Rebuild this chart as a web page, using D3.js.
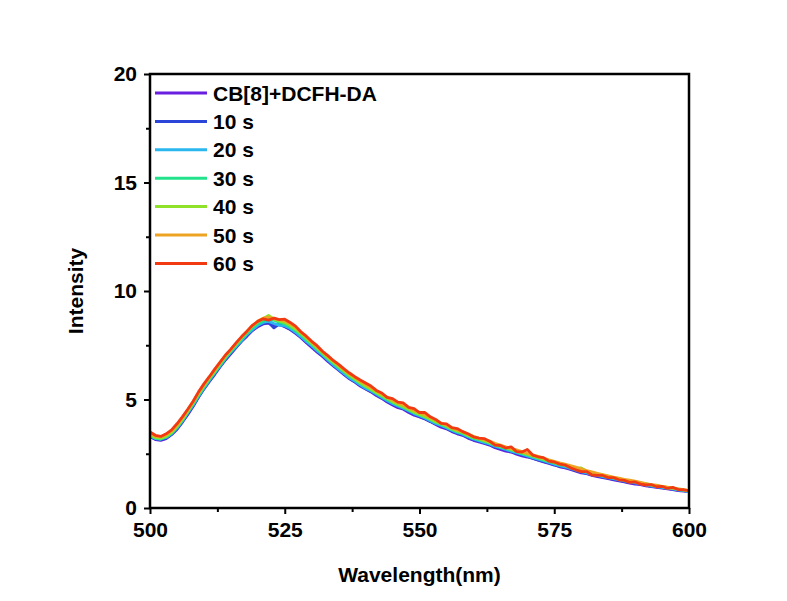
<!DOCTYPE html>
<html>
<head>
<meta charset="utf-8">
<script src="https://cdn.jsdelivr.net/npm/d3@7"></script>
<style>
  body { margin: 0; background: #fff; }
  text { font-family: Arial, "Liberation Sans", sans-serif; font-weight: bold; }
</style>
</head>
<body>
<div id="viz"></div>
<script>
// wavelength grid 500..600 nm, 1 nm step
var wavelengths = d3.range(500, 601, 1);

var seriesNames = ['CB[8]+DCFH-DA', '10 s', '20 s', '30 s', '40 s', '50 s', '60 s'];
var seriesColors = ['#6a1fe0', '#2b45d8', '#2ab6ee', '#22e38c', '#8fe12a', '#eea423', '#f23a12'];

var cbDcfh = [3.30, 3.15, 3.12, 3.20, 3.38, 3.62, 3.95, 4.30, 4.68, 5.10, 5.48,
  5.82, 6.15, 6.50, 6.82, 7.10, 7.40, 7.68, 7.92, 8.18, 8.35,
  8.48, 8.52, 8.40, 8.45, 8.35, 8.22, 8.05, 7.85, 7.62, 7.40,
  7.18, 6.98, 6.75, 6.55, 6.35, 6.15, 5.95, 5.80, 5.62, 5.48,
  5.35, 5.18, 5.05, 4.88, 4.75, 4.62, 4.55, 4.40, 4.28, 4.20,
  4.10, 3.98, 3.85, 3.72, 3.65, 3.52, 3.42, 3.35, 3.22, 3.12,
  3.05, 2.98, 2.90, 2.78, 2.70, 2.62, 2.58, 2.48, 2.40, 2.35,
  2.28, 2.20, 2.12, 2.05, 1.98, 1.90, 1.85, 1.78, 1.70, 1.62,
  1.58, 1.50, 1.45, 1.40, 1.35, 1.30, 1.25, 1.20, 1.15, 1.10,
  1.08, 1.02, 0.98, 0.95, 0.92, 0.88, 0.85, 0.80, 0.78, 0.75];

var s10 = [3.28, 3.18, 3.15, 3.22, 3.40, 3.65, 3.98, 4.35, 4.72, 5.12, 5.50,
  5.85, 6.20, 6.52, 6.85, 7.15, 7.42, 7.70, 7.98, 8.20, 8.40,
  8.50, 8.55, 8.30, 8.48, 8.38, 8.25, 8.08, 7.88, 7.65, 7.45,
  7.22, 7.02, 6.80, 6.58, 6.38, 6.18, 5.98, 5.82, 5.65, 5.50,
  5.38, 5.22, 5.08, 4.92, 4.78, 4.68, 4.58, 4.45, 4.32, 4.22,
  4.12, 4.00, 3.88, 3.78, 3.68, 3.55, 3.45, 3.38, 3.25, 3.15,
  3.08, 3.00, 2.92, 2.82, 2.75, 2.68, 2.60, 2.52, 2.45, 2.38,
  2.30, 2.22, 2.15, 2.08, 2.00, 1.92, 1.88, 1.80, 1.72, 1.65,
  1.60, 1.52, 1.48, 1.42, 1.38, 1.32, 1.28, 1.22, 1.18, 1.15,
  1.10, 1.05, 1.00, 0.98, 0.94, 0.90, 0.86, 0.82, 0.80, 0.76];

var s20 = [3.32, 3.20, 3.18, 3.25, 3.42, 3.68, 4.00, 4.38, 4.75, 5.15, 5.52,
  5.88, 6.22, 6.55, 6.88, 7.18, 7.45, 7.72, 8.00, 8.22, 8.42,
  8.55, 8.60, 8.50, 8.42, 8.40, 8.28, 8.10, 7.90, 7.68, 7.48,
  7.25, 7.05, 6.82, 6.60, 6.40, 6.20, 6.00, 5.85, 5.68, 5.52,
  5.40, 5.25, 5.10, 4.95, 4.82, 4.70, 4.60, 4.48, 4.35, 4.25,
  4.15, 4.02, 3.90, 3.80, 3.70, 3.58, 3.48, 3.40, 3.28, 3.18,
  3.10, 3.02, 2.95, 2.85, 2.78, 2.70, 2.62, 2.55, 2.48, 2.40,
  2.32, 2.25, 2.18, 2.10, 2.02, 1.95, 1.90, 1.82, 1.75, 1.68,
  1.62, 1.55, 1.50, 1.45, 1.40, 1.35, 1.30, 1.25, 1.20, 1.16,
  1.12, 1.06, 1.02, 0.98, 0.95, 0.90, 0.88, 0.84, 0.80, 0.74];

var s30 = [3.35, 3.22, 3.18, 3.28, 3.45, 3.72, 4.05, 4.42, 4.80, 5.20, 5.58,
  5.92, 6.25, 6.60, 6.92, 7.22, 7.50, 7.78, 8.05, 8.30, 8.50,
  8.62, 8.70, 8.65, 8.55, 8.48, 8.35, 8.18, 7.98, 7.75, 7.55,
  7.32, 7.10, 6.88, 6.68, 6.48, 6.28, 6.08, 5.92, 5.75, 5.60,
  5.45, 5.30, 5.15, 5.00, 4.88, 4.75, 4.65, 4.52, 4.40, 4.30,
  4.20, 4.08, 3.95, 3.85, 3.75, 3.62, 3.52, 3.45, 3.32, 3.22,
  3.15, 3.08, 3.00, 2.90, 2.82, 2.75, 2.68, 2.60, 2.52, 2.45,
  2.38, 2.30, 2.22, 2.15, 2.08, 2.00, 1.95, 1.88, 1.80, 1.72,
  1.66, 1.60, 1.55, 1.48, 1.44, 1.38, 1.34, 1.28, 1.24, 1.20,
  1.15, 1.10, 1.05, 1.02, 0.98, 0.94, 0.90, 0.86, 0.82, 0.78];

var s40 = [3.38, 3.25, 3.22, 3.30, 3.48, 3.75, 4.08, 4.45, 4.85, 5.25, 5.62,
  5.98, 6.30, 6.65, 6.98, 7.28, 7.55, 7.85, 8.12, 8.38, 8.58,
  8.72, 8.88, 8.70, 8.62, 8.55, 8.42, 8.25, 8.05, 7.82, 7.60,
  7.38, 7.15, 6.92, 6.72, 6.52, 6.32, 6.12, 5.95, 5.78, 5.62,
  5.48, 5.32, 5.18, 5.05, 4.90, 4.78, 4.68, 4.55, 4.42, 4.32,
  4.22, 4.10, 3.98, 3.88, 3.78, 3.65, 3.55, 3.48, 3.35, 3.25,
  3.18, 3.10, 3.02, 2.92, 2.85, 2.78, 2.70, 2.62, 2.55, 2.48,
  2.40, 2.32, 2.25, 2.18, 2.10, 2.02, 1.98, 1.90, 1.82, 1.85,
  1.70, 1.62, 1.56, 1.50, 1.46, 1.40, 1.35, 1.30, 1.25, 1.22,
  1.16, 1.12, 1.06, 1.02, 0.98, 0.95, 0.92, 0.88, 0.84, 0.80];

var s50 = [3.45, 3.30, 3.28, 3.38, 3.55, 3.82, 4.15, 4.52, 4.90, 5.30, 5.68,
  6.02, 6.35, 6.70, 7.02, 7.30, 7.60, 7.88, 8.15, 8.40, 8.62,
  8.75, 8.80, 8.72, 8.68, 8.62, 8.50, 8.32, 8.10, 7.88, 7.65,
  7.42, 7.20, 6.98, 6.78, 6.58, 6.38, 6.18, 6.02, 5.85, 5.70,
  5.55, 5.40, 5.25, 5.10, 4.98, 4.85, 4.75, 4.62, 4.50, 4.40,
  4.30, 4.18, 4.05, 3.92, 3.82, 3.70, 3.60, 3.52, 3.40, 3.30,
  3.22, 3.15, 3.08, 2.98, 2.90, 2.82, 2.75, 2.68, 2.60, 2.52,
  2.45, 2.38, 2.30, 2.22, 2.15, 2.08, 2.02, 1.95, 1.88, 1.80,
  1.72, 1.66, 1.60, 1.54, 1.48, 1.42, 1.38, 1.32, 1.28, 1.24,
  1.18, 1.12, 1.08, 1.05, 1.00, 0.96, 0.92, 0.88, 0.85, 0.80];

var s60 = [3.50, 3.35, 3.30, 3.42, 3.60, 3.88, 4.20, 4.55, 4.92, 5.35, 5.72,
  6.05, 6.40, 6.72, 7.05, 7.32, 7.62, 7.90, 8.15, 8.42, 8.60,
  8.72, 8.66, 8.75, 8.68, 8.70, 8.55, 8.38, 8.12, 7.92, 7.68,
  7.48, 7.22, 7.02, 6.80, 6.62, 6.41, 6.22, 6.05, 5.90, 5.76,
  5.62, 5.42, 5.30, 5.10, 5.04, 4.88, 4.84, 4.64, 4.58, 4.40,
  4.40, 4.20, 4.08, 3.90, 3.88, 3.70, 3.66, 3.52, 3.42, 3.28,
  3.22, 3.20, 3.08, 2.90, 2.88, 2.76, 2.82, 2.60, 2.58, 2.70,
  2.44, 2.36, 2.32, 2.16, 2.12, 2.02, 1.98, 1.85, 1.76, 1.68,
  1.68, 1.52, 1.50, 1.50, 1.40, 1.40, 1.30, 1.27, 1.18, 1.20,
  1.10, 1.06, 1.08, 0.98, 1.00, 0.90, 0.95, 0.85, 0.84, 0.80];

var seriesValues = [cbDcfh, s10, s20, s30, s40, s50, s60];

var xTicks = [500, 525, 550, 575, 600];
var yTicks = [0, 5, 10, 15, 20];

var width = 787,
    height = 601,
    plotLeft = 150, plotRight = 689, plotTop = 74, plotBottom = 508;

var xScale = d3.scaleLinear().domain([500, 600]).range([plotLeft, plotRight]);
var yScale = d3.scaleLinear().domain([0, 20]).range([plotBottom, plotTop]);

var svg = d3.select('#viz').append('svg')
    .attr('width', width)
    .attr('height', height)
    .style('background', '#fff');

// curves
var line = d3.line()
    .x(function(d, i) { return xScale(wavelengths[i]); })
    .y(function(d) { return yScale(d); });

svg.append('g').selectAll('path').data(seriesValues)
    .enter().append('path')
    .attr('d', line)
    .attr('fill', 'none')
    .attr('stroke', function(d, i) { return seriesColors[i]; })
    .attr('stroke-width', 2.8)
    .attr('stroke-linejoin', 'round');

// axes
var xAxis = svg.append('g')
    .attr('transform', 'translate(0,' + plotBottom + ')')
    .call(d3.axisBottom(xScale).tickValues(xTicks).tickSize(6).tickPadding(8).tickFormat(d3.format('d')));

var xMinor = svg.append('g')
    .attr('transform', 'translate(0,' + plotBottom + ')')
    .call(d3.axisBottom(xScale).tickValues([512.5, 537.5, 562.5, 587.5]).tickSize(4).tickFormat(''));

var yAxis = svg.append('g')
    .attr('transform', 'translate(' + plotLeft + ',0)')
    .call(d3.axisLeft(yScale).tickValues(yTicks).tickSize(6).tickPadding(7));

var yMinor = svg.append('g')
    .attr('transform', 'translate(' + plotLeft + ',0)')
    .call(d3.axisLeft(yScale).tickValues([2.5, 7.5, 12.5, 17.5]).tickSize(4).tickFormat(''));

[xAxis, xMinor, yAxis, yMinor].forEach(function(g) {
    g.select('.domain').remove();
    g.selectAll('line').attr('stroke', '#000').attr('stroke-width', 2);
    g.selectAll('text').attr('font-size', 21).attr('font-weight', 'bold').attr('fill', '#000')
        .style('font-family', 'Arial, "Liberation Sans", sans-serif');
});

// frame
svg.append('rect')
    .attr('x', plotLeft).attr('y', plotTop)
    .attr('width', plotRight - plotLeft).attr('height', plotBottom - plotTop)
    .attr('fill', 'none')
    .attr('stroke', '#000')
    .attr('stroke-width', 2.5);

// axis titles
svg.append('text')
    .attr('x', (plotLeft + plotRight) / 2)
    .attr('y', 582)
    .attr('text-anchor', 'middle')
    .attr('font-size', 21)
    .text('Wavelength(nm)');

svg.append('text')
    .attr('transform', 'translate(83,' + ((plotTop + plotBottom) / 2) + ') rotate(-90)')
    .attr('text-anchor', 'middle')
    .attr('font-size', 21)
    .text('Intensity');

// legend
var legend = svg.append('g').selectAll('g').data(seriesNames)
    .enter().append('g')
    .attr('transform', function(d, i) { return 'translate(155,' + (93 + i * 28.4) + ')'; });

legend.append('line')
    .attr('x1', 0).attr('x2', 52)
    .attr('stroke', function(d, i) { return seriesColors[i]; })
    .attr('stroke-width', 3);

legend.append('text')
    .attr('x', 58)
    .attr('dy', '0.36em')
    .attr('font-size', 21)
    .text(function(d) { return d; });
</script>
</body>
</html>
